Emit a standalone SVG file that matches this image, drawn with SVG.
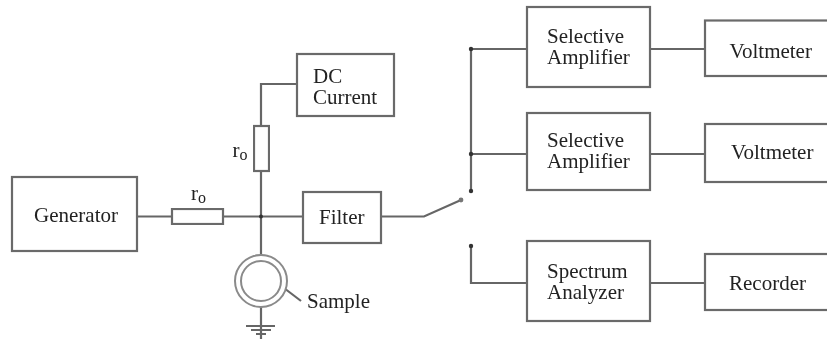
<svg xmlns="http://www.w3.org/2000/svg" width="827" height="340" viewBox="0 0 827 340">
<defs>
<filter id="soft" x="-5%" y="-5%" width="110%" height="110%"><feGaussianBlur stdDeviation="0.5"/></filter>
<filter id="softt" x="-5%" y="-5%" width="110%" height="110%"><feGaussianBlur stdDeviation="0.3"/></filter>
</defs>
<style>
.b{fill:#fff;stroke:#6a6a6a;stroke-width:2.2;filter:url(#soft)}
.w{fill:none;stroke:#666;stroke-width:2.2;filter:url(#soft)}
.t{font-family:"Liberation Serif","Times New Roman",serif;font-size:21px;fill:#222;filter:url(#softt)}
.s{font-size:16px}
.d{fill:#333}
</style>
<rect width="827" height="340" fill="#fff"/>
<g id="connectors">
<path class="w" d="M137 216.5H172M223 216.5H303M261 126V84H297M261 171V255M261 306V339"/>
<path class="w" d="M381 216.5H424L461 200"/>
<path class="w" d="M471 49V191M471 49H527M471 154H527M471 246V283H527"/>
<path class="w" d="M650 49H705M650 154H705M650 283H705"/>
<path class="w" d="M284 288L301 301"/>
<path class="w" d="M246 326H275M251 330H271M256 334H266"/>
<circle class="d" cx="261" cy="216.5" r="2"/>
<circle class="d" cx="471" cy="49" r="2.2"/>
<circle class="d" cx="471" cy="154" r="2.2"/>
<circle class="d" cx="471" cy="191" r="2.2"/>
<circle class="d" cx="471" cy="246" r="2.2"/>
<circle cx="461" cy="200" r="2.4" fill="#777"/>
</g>
<g id="generator"><rect class="b" x="12" y="177" width="125" height="74"/><text class="t" x="76" y="222" text-anchor="middle">Generator</text></g>
<g id="r1"><rect class="b" x="172" y="209" width="51" height="15"/><text class="t" x="191" y="200">r<tspan class="s" dy="3">o</tspan></text></g>
<g id="r2"><rect class="b" x="254" y="126" width="15" height="45"/><text class="t" x="232.500" y="157">r<tspan class="s" dy="3">o</tspan></text></g>
<g id="dc"><rect class="b" x="297" y="54" width="97" height="62"/><text class="t" x="313" y="83">DC</text><text class="t" x="313" y="104">Current</text></g>
<g id="filter"><rect class="b" x="303" y="192" width="78" height="51"/><text class="t" x="319" y="224">Filter</text></g>
<g id="sample"><circle cx="261" cy="281" r="26" fill="#fff" stroke="#8a8a8a" stroke-width="2" filter="url(#soft)"/><circle cx="261" cy="281" r="20" fill="#fff" stroke="#8a8a8a" stroke-width="2" filter="url(#soft)"/><text class="t" x="307" y="308">Sample</text></g>
<g id="amp1"><rect class="b" x="527" y="7" width="123" height="80"/><text class="t" x="547" y="43">Selective</text><text class="t" x="547" y="64">Amplifier</text></g>
<g id="amp2"><rect class="b" x="527" y="113" width="123" height="77"/><text class="t" x="547" y="147">Selective</text><text class="t" x="547" y="168">Amplifier</text></g>
<g id="analyzer"><rect class="b" x="527" y="241" width="123" height="80"/><text class="t" x="547" y="278">Spectrum</text><text class="t" x="547" y="299">Analyzer</text></g>
<g id="volt1"><rect class="b" x="705" y="20.500" width="130" height="55.500"/><text class="t" x="729.500" y="58">Voltmeter</text></g>
<g id="volt2"><rect class="b" x="705" y="124" width="130" height="58"/><text class="t" x="731" y="159">Voltmeter</text></g>
<g id="recorder"><rect class="b" x="705" y="254" width="130" height="56"/><text class="t" x="729" y="290">Recorder</text></g>
</svg>
